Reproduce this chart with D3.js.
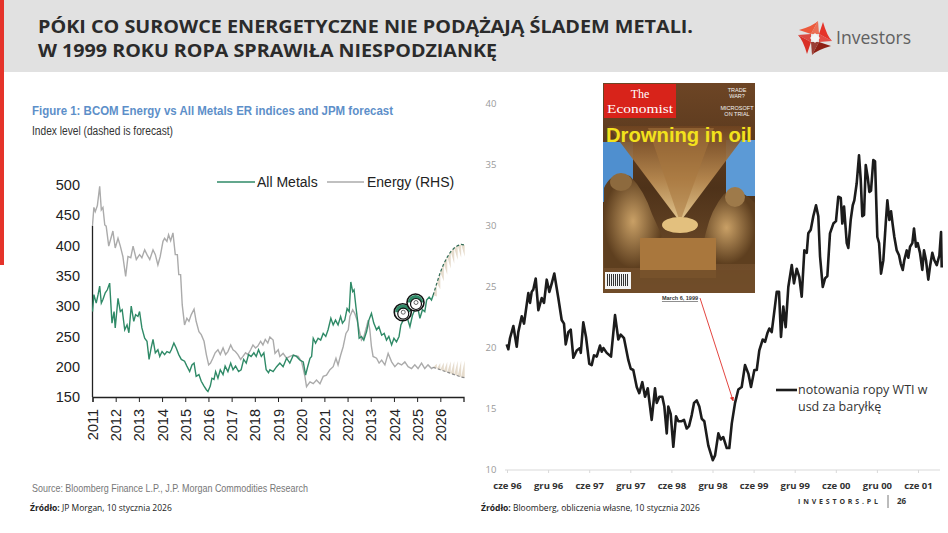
<!DOCTYPE html>
<html>
<head>
<meta charset="utf-8">
<script src="https://cdn.jsdelivr.net/npm/d3@7"></script>
<style>
  body { margin: 0; background: #fff; }
  svg { display: block; }
</style>
</head>
<body>
<div id="slide"></div>
<script>
/**
 * DATA
 * */
// left chart: BCOM indices, decimal years
const yearTicks = [2011, 2012, 2013, 2014, 2015, 2016, 2017, 2018, 2019, 2020, 2021, 2022, 2023, 2024, 2025, 2026];
const yearLabels = ["2011", "2012", "2013", "2014", "2015", "2016", "2017", "2018", "2019", "2020", "2021", "2022", "2013", "2024", "2025", "2026"];
const indexTicks = [150, 200, 250, 300, 350, 400, 450, 500];

const metalsT = [2011.00, 2011.06, 2011.16, 2011.24, 2011.31, 2011.38, 2011.45, 2011.55, 2011.64, 2011.74, 2011.84, 2011.93, 2011.98, 2012.10, 2012.20, 2012.28, 2012.39, 2012.49, 2012.57, 2012.67, 2012.78, 2012.86, 2012.96, 2013.03, 2013.13, 2013.25, 2013.35, 2013.44, 2013.53, 2013.61, 2013.71, 2013.82, 2013.90, 2014.00, 2014.11, 2014.21, 2014.33, 2014.40, 2014.51, 2014.61, 2014.72, 2014.83, 2014.97, 2015.07, 2015.19, 2015.29, 2015.38, 2015.47, 2015.59, 2015.69, 2015.81, 2015.91, 2015.98, 2016.08, 2016.15, 2016.24, 2016.31, 2016.41, 2016.51, 2016.63, 2016.72, 2016.84, 2016.96, 2017.06, 2017.17, 2017.30, 2017.41, 2017.52, 2017.63, 2017.73, 2017.84, 2017.96, 2018.06, 2018.16, 2018.28, 2018.39, 2018.49, 2018.59, 2018.65, 2018.79, 2018.94, 2019.08, 2019.22, 2019.37, 2019.51, 2019.66, 2019.80, 2019.94, 2020.09, 2020.19, 2020.28, 2020.38, 2020.45, 2020.52, 2020.62, 2020.73, 2020.84, 2020.95, 2021.06, 2021.16, 2021.28, 2021.38, 2021.48, 2021.59, 2021.70, 2021.78, 2021.88, 2021.98, 2022.07, 2022.14, 2022.22, 2022.28, 2022.36, 2022.43, 2022.50, 2022.60, 2022.70, 2022.82, 2022.92, 2023.03, 2023.13, 2023.25, 2023.35, 2023.47, 2023.58, 2023.68, 2023.78, 2023.90, 2024.00, 2024.11, 2024.22, 2024.30, 2024.40, 2024.54, 2024.69, 2024.80, 2024.90, 2025.00, 2025.12, 2025.23, 2025.33, 2025.41, 2025.52, 2025.62, 2025.69];
const metalsV = [291, 319, 305, 319, 333, 305, 311, 322, 327, 338, 272, 291, 264, 313, 291, 294, 261, 269, 256, 300, 275, 286, 283, 291, 264, 247, 242, 212, 231, 245, 223, 228, 217, 225, 220, 225, 223, 228, 239, 231, 220, 212, 209, 201, 192, 203, 206, 184, 187, 176, 168, 162, 159, 168, 181, 179, 192, 181, 195, 187, 201, 192, 206, 195, 201, 192, 195, 212, 206, 220, 217, 223, 217, 228, 217, 223, 195, 190, 195, 192, 200, 206, 200, 214, 206, 219, 217, 211, 208, 186, 200, 214, 217, 247, 239, 247, 244, 255, 250, 261, 280, 269, 277, 269, 283, 272, 277, 296, 291, 340, 324, 327, 299, 277, 247, 250, 244, 258, 277, 288, 272, 261, 266, 252, 255, 244, 250, 236, 247, 241, 250, 269, 277, 285, 266, 285, 294, 302, 280, 294, 291, 310, 315, 310, 318];

const energyT = [2011.00, 2011.06, 2011.12, 2011.21, 2011.31, 2011.38, 2011.45, 2011.53, 2011.59, 2011.70, 2011.78, 2011.88, 2011.98, 2012.10, 2012.20, 2012.31, 2012.43, 2012.53, 2012.65, 2012.75, 2012.89, 2013.03, 2013.13, 2013.25, 2013.35, 2013.47, 2013.61, 2013.71, 2013.82, 2013.92, 2014.04, 2014.11, 2014.21, 2014.28, 2014.37, 2014.47, 2014.57, 2014.66, 2014.72, 2014.80, 2014.87, 2014.97, 2015.07, 2015.16, 2015.26, 2015.38, 2015.47, 2015.59, 2015.69, 2015.81, 2015.91, 2016.01, 2016.09, 2016.19, 2016.29, 2016.41, 2016.51, 2016.63, 2016.74, 2016.84, 2016.96, 2017.06, 2017.16, 2017.27, 2017.39, 2017.49, 2017.60, 2017.70, 2017.82, 2017.92, 2018.03, 2018.13, 2018.25, 2018.35, 2018.45, 2018.56, 2018.65, 2018.79, 2018.87, 2019.01, 2019.08, 2019.22, 2019.37, 2019.51, 2019.66, 2019.87, 2020.02, 2020.16, 2020.23, 2020.38, 2020.52, 2020.66, 2020.81, 2020.95, 2021.09, 2021.24, 2021.38, 2021.50, 2021.59, 2021.70, 2021.81, 2021.93, 2022.03, 2022.10, 2022.22, 2022.31, 2022.41, 2022.50, 2022.60, 2022.70, 2022.82, 2022.89, 2022.96, 2023.03, 2023.10, 2023.25, 2023.36, 2023.47, 2023.61, 2023.75, 2023.90, 2024.04, 2024.18, 2024.33, 2024.47, 2024.61, 2024.76, 2024.90, 2025.04, 2025.19, 2025.33, 2025.47, 2025.62, 2025.69];
const energyV = [434, 463, 456, 466, 498, 459, 463, 434, 432, 399, 410, 424, 396, 412, 399, 382, 349, 382, 380, 399, 377, 385, 380, 393, 385, 377, 393, 385, 368, 382, 407, 412, 407, 418, 408, 421, 385, 385, 352, 352, 302, 269, 280, 275, 286, 295, 275, 258, 253, 242, 220, 203, 206, 214, 223, 228, 220, 231, 220, 225, 236, 228, 225, 220, 212, 217, 223, 220, 228, 236, 231, 234, 242, 236, 245, 239, 249, 244, 222, 228, 217, 222, 214, 217, 219, 217, 208, 184, 167, 175, 172, 178, 172, 184, 186, 195, 200, 214, 203, 219, 233, 255, 261, 283, 294, 288, 277, 261, 244, 249, 266, 277, 261, 233, 217, 214, 206, 211, 203, 222, 208, 200, 206, 203, 208, 200, 197, 203, 197, 206, 197, 203, 197, 199];

// JPM forecast (dashed) and forecast band
const fcstT = [2025.69, 2025.85, 2026.00, 2026.15, 2026.30, 2026.45, 2026.60, 2026.75, 2026.90, 2027.05];
const metalsFcst = [318, 338, 356, 370, 381, 390, 396, 400, 402, 401];
const metalsBand = [318, 316, 328, 341, 352, 362, 370, 376, 380, 382];
const energyFcst = [199, 197, 195, 193, 191, 189, 187, 185, 183, 182];
const energyBand = [199, 205, 206, 207, 208, 209, 209, 210, 210, 210];

// right chart: WTI, USD/bbl, decimal years
const monthTicks = [1996.4167, 1996.9167, 1997.4167, 1997.9167, 1998.4167, 1998.9167, 1999.4167, 1999.9167, 2000.4167, 2000.9167, 2001.4167];
const monthLabels = ["cze 96", "gru 96", "cze 97", "gru 97", "cze 98", "gru 98", "cze 99", "gru 99", "cze 00", "gru 00", "cze 01"];
const priceTicks = [10, 15, 20, 25, 30, 35, 40];

const wtiT = [1996.413, 1996.433, 1996.453, 1996.494, 1996.535, 1996.554, 1996.596, 1996.624, 1996.676, 1996.697, 1996.717, 1996.737, 1996.766, 1996.798, 1996.839, 1996.867, 1996.900, 1996.932, 1996.961, 1996.992, 1997.041, 1997.082, 1997.110, 1997.131, 1997.163, 1997.192, 1997.224, 1997.265, 1997.305, 1997.314, 1997.345, 1997.378, 1997.418, 1997.447, 1997.475, 1997.508, 1997.548, 1997.569, 1997.589, 1997.630, 1997.682, 1997.731, 1997.771, 1997.800, 1997.840, 1997.893, 1997.922, 1997.953, 1997.995, 1998.026, 1998.063, 1998.096, 1998.129, 1998.177, 1998.217, 1998.238, 1998.270, 1998.306, 1998.331, 1998.360, 1998.379, 1998.408, 1998.440, 1998.473, 1998.501, 1998.542, 1998.570, 1998.603, 1998.631, 1998.664, 1998.692, 1998.725, 1998.756, 1998.786, 1998.817, 1998.866, 1998.920, 1998.948, 1998.988, 1999.017, 1999.048, 1999.090, 1999.121, 1999.151, 1999.191, 1999.231, 1999.272, 1999.312, 1999.353, 1999.385, 1999.426, 1999.455, 1999.486, 1999.528, 1999.556, 1999.584, 1999.608, 1999.637, 1999.665, 1999.698, 1999.726, 1999.750, 1999.778, 1999.807, 1999.839, 1999.881, 1999.908, 1999.941, 1999.973, 2000.002, 2000.034, 2000.063, 2000.082, 2000.112, 2000.143, 2000.176, 2000.204, 2000.225, 2000.258, 2000.286, 2000.314, 2000.346, 2000.387, 2000.419, 2000.447, 2000.477, 2000.496, 2000.517, 2000.550, 2000.569, 2000.598, 2000.623, 2000.642, 2000.671, 2000.699, 2000.720, 2000.739, 2000.760, 2000.781, 2000.805, 2000.825, 2000.845, 2000.873, 2000.894, 2000.922, 2000.943, 2000.967, 2000.995, 2001.024, 2001.044, 2001.068, 2001.089, 2001.109, 2001.129, 2001.158, 2001.186, 2001.207, 2001.231, 2001.250, 2001.280, 2001.299, 2001.320, 2001.348, 2001.368, 2001.393, 2001.413, 2001.441, 2001.469, 2001.490, 2001.514, 2001.542, 2001.563, 2001.591, 2001.615, 2001.645, 2001.677, 2001.697, 2001.705];
const wtiV = [20.3, 19.9, 20.8, 21.8, 20.1, 21.3, 22.6, 22.0, 24.5, 23.7, 24.6, 24.8, 25.7, 23.1, 24.1, 23.7, 25.6, 24.6, 25.3, 26.1, 24.1, 22.3, 22.0, 20.3, 21.3, 21.5, 19.2, 19.8, 20.0, 19.6, 22.1, 20.9, 18.7, 18.6, 19.4, 19.3, 20.2, 19.7, 20.0, 19.6, 19.3, 22.7, 20.7, 21.1, 20.8, 19.0, 18.3, 18.2, 16.8, 16.3, 17.2, 16.0, 16.7, 14.1, 16.7, 15.5, 16.0, 16.0, 15.2, 13.0, 15.2, 14.6, 11.9, 14.4, 14.0, 14.0, 14.1, 13.4, 13.6, 14.5, 15.5, 15.7, 15.2, 14.2, 14.0, 12.0, 10.8, 11.2, 13.0, 12.5, 12.7, 11.8, 11.8, 13.8, 15.5, 16.6, 16.8, 18.6, 17.9, 16.8, 18.2, 18.2, 19.8, 20.7, 20.5, 21.2, 21.6, 21.3, 22.8, 24.6, 24.6, 20.9, 23.4, 21.7, 25.0, 26.8, 25.3, 26.5, 25.8, 24.2, 28.0, 27.8, 29.4, 29.7, 30.8, 31.7, 30.8, 27.5, 25.0, 25.7, 25.9, 29.4, 30.2, 30.4, 32.4, 32.3, 30.2, 31.6, 28.6, 28.2, 30.5, 31.7, 32.1, 33.5, 35.8, 33.8, 30.8, 30.9, 35.0, 34.0, 32.8, 32.9, 35.4, 35.3, 29.1, 28.6, 26.1, 27.2, 30.2, 32.1, 30.5, 31.2, 30.1, 29.1, 28.0, 27.6, 26.9, 26.4, 27.2, 28.0, 27.4, 28.3, 28.6, 29.8, 28.3, 28.6, 27.8, 26.4, 28.0, 27.2, 25.6, 26.7, 27.8, 27.2, 26.8, 27.6, 29.5, 26.6];

const coverDate = 1999.18; // Economist "Drowning in oil", March 6 1999

/**
 * SETUP
 * */
const width = 948, height = 533;
const svg = d3.select("#slide").append("svg").attr("width", width).attr("height", height);
const defs = svg.append("defs");
const ARIAL = "Arial, 'Liberation Sans', sans-serif";
const OPEN = "'Open Sans', 'Noto Sans', sans-serif";
const SERIF = "'Liberation Serif', 'DejaVu Serif', serif";

// header band
svg.append("rect").attr("x", 0).attr("y", 0).attr("width", width).attr("height", 72).attr("fill", "#e1e1e1");
svg.append("rect").attr("x", 0).attr("y", 0).attr("width", 4).attr("height", 265).attr("fill", "#e5332a");

svg.append("text").attr("x", 38).attr("y", 33)
  .attr("font-family", OPEN).attr("font-weight", 700).attr("font-size", 18).attr("fill", "#2b2b2b")
  .attr("textLength", 655).attr("lengthAdjust", "spacingAndGlyphs")
  .text("PÓKI CO SUROWCE ENERGETYCZNE NIE PODĄŻAJĄ ŚLADEM METALI.");
svg.append("text").attr("x", 38).attr("y", 57)
  .attr("font-family", OPEN).attr("font-weight", 700).attr("font-size", 18).attr("fill", "#2b2b2b")
  .attr("textLength", 459).attr("lengthAdjust", "spacingAndGlyphs")
  .text("W 1999 ROKU ROPA SPRAWIŁA NIESPODZIANKĘ");

// Investors logo: pinwheel of four petals round a white diamond
const logo = svg.append("g").attr("transform", "translate(815,38)");
[[0, "#ec5a3c"], [90, "#e5332a"], [180, "#8e2116"], [270, "#d92f25"]].forEach(([a, c]) => {
  logo.append("path").attr("d", "M-4,-4 L3,-17 Q-2,-12 -16,-8 Z")
    .attr("transform", `rotate(${a})`).attr("fill", c);
  logo.append("path").attr("d", "M-4,-4 L4,-4 L3,-17 Z")
    .attr("transform", `rotate(${a})`).attr("fill", c).attr("opacity", 0.85);
});
logo.append("path").attr("d", "M-5,0 L0,-5 L5,0 L0,5 Z").attr("fill", "#f4f4f4");
svg.append("text").attr("x", 836).attr("y", 44)
  .attr("font-family", OPEN).attr("font-size", 19).attr("fill", "#606060")
  .attr("textLength", 75).attr("lengthAdjust", "spacingAndGlyphs").text("Investors");

/**
 * LEFT CHART
 * */
const L = svg.append("g");
L.append("text").attr("x", 32).attr("y", 115)
  .attr("font-family", ARIAL).attr("font-weight", 700).attr("font-size", 13.5).attr("fill", "#5d8fc9")
  .attr("textLength", 361).attr("lengthAdjust", "spacingAndGlyphs")
  .text("Figure 1: BCOM Energy vs All Metals ER indices and JPM forecast");
L.append("text").attr("x", 32).attr("y", 135)
  .attr("font-family", ARIAL).attr("font-size", 12).attr("fill", "#333")
  .attr("textLength", 141).attr("lengthAdjust", "spacingAndGlyphs")
  .text("Index level (dashed is forecast)");

const xL = d3.scaleLinear().domain([2011, 2027]).range([92.5, 463.5]);
const yL = d3.scaleLinear().domain([150, 500]).range([397, 185]);

// axes
const xAxisL = L.append("g").attr("transform", "translate(0,397)")
  .call(d3.axisBottom(xL).tickValues(yearTicks).tickSize(5).tickFormat((d, i) => yearLabels[i]));
xAxisL.select(".domain").attr("stroke", "#222").attr("stroke-width", 1.3);
xAxisL.selectAll(".tick line").attr("stroke", "#222");
xAxisL.selectAll(".tick text")
  .attr("font-family", ARIAL).attr("font-size", 14.5).attr("fill", "#222")
  .attr("transform", "rotate(-90)").attr("text-anchor", "end")
  .attr("x", -12).attr("y", 0).attr("dy", "0.35em");

L.append("line").attr("x1", xL(2011)).attr("x2", xL(2011)).attr("y1", yL(150)).attr("y2", yL(433))
  .attr("stroke", "#222").attr("stroke-width", 1.3);
L.selectAll(".ylab").data(indexTicks).join("text").attr("class", "ylab")
  .attr("x", 80).attr("y", d => yL(d)).attr("dy", "0.35em").attr("text-anchor", "end")
  .attr("font-family", ARIAL).attr("font-size", 14.5).attr("fill", "#222").text(d => d);

// forecast band, drawn as saw teeth
function teeth(T, line, band) {
  const out = [];
  for (let i = 0; i < T.length - 1; i++) {
    out.push([[T[i], line[i]], [T[i + 1], band[i + 1]], [T[i + 1], line[i + 1]]]);
  }
  return out;
}
L.append("clipPath").attr("id", "clipL").append("rect").attr("x", 92).attr("y", 150).attr("width", 373).attr("height", 250);
const fan = L.append("g").attr("clip-path", "url(#clipL)");
fan.selectAll(".tooth").data(teeth(fcstT, metalsFcst, metalsBand).concat(teeth(fcstT, energyFcst, energyBand)))
  .join("path").attr("class", "tooth")
  .attr("d", d => "M" + d.map(p => [xL(p[0]), yL(p[1])].join(",")).join("L") + "Z")
  .attr("fill", "#e6dccd");

const lineL = d3.line().x(d => xL(d[0])).y(d => yL(d[1]));
const plot = L.append("g").attr("clip-path", "url(#clipL)");
plot.append("path").datum(d3.zip(energyT, energyV)).attr("d", lineL)
  .attr("fill", "none").attr("stroke", "#ababab").attr("stroke-width", 1.4);
plot.append("path").datum(d3.zip(metalsT, metalsV)).attr("d", lineL)
  .attr("fill", "none").attr("stroke", "#2f8a67").attr("stroke-width", 1.4);
plot.append("path").datum(d3.zip(fcstT, energyFcst)).attr("d", lineL)
  .attr("fill", "none").attr("stroke", "#8a8a8a").attr("stroke-width", 1.2).attr("stroke-dasharray", "3,2");
plot.append("path").datum(d3.zip(fcstT, metalsFcst)).attr("d", lineL)
  .attr("fill", "none").attr("stroke", "#2f6b55").attr("stroke-width", 1.2).attr("stroke-dasharray", "3,2");

// "eyes" sticker on the metals line
[[2024.38, 290], [2024.93, 306]].forEach(([t, v]) => {
  const g = L.append("g").attr("transform", `translate(${xL(t)},${yL(v)})`);
  g.append("circle").attr("r", 8.5).attr("fill", "#fff").attr("stroke", "#111").attr("stroke-width", 1.6);
  g.append("path").attr("d", d3.arc()({ innerRadius: 0, outerRadius: 7.6, startAngle: -Math.PI / 2, endAngle: Math.PI / 2 }))
    .attr("fill", "#2f8a67");
  g.append("circle").attr("cx", 0.5).attr("cy", 1.5).attr("r", 5.5).attr("fill", "#fff").attr("stroke", "#111").attr("stroke-width", 1.2);
  g.append("circle").attr("cx", 0.5).attr("cy", 0).attr("r", 2).attr("fill", "#fff").attr("stroke", "#444").attr("stroke-width", 0.8);
});

// legend
const legL = L.append("g").attr("font-family", ARIAL).attr("font-size", 14).attr("fill", "#222");
legL.append("line").attr("x1", 217).attr("x2", 255).attr("y1", 182).attr("y2", 182).attr("stroke", "#2f8a67").attr("stroke-width", 1.6);
legL.append("text").attr("x", 257).attr("y", 182).attr("dy", "0.35em").text("All Metals");
legL.append("line").attr("x1", 327).attr("x2", 364).attr("y1", 182).attr("y2", 182).attr("stroke", "#ababab").attr("stroke-width", 1.6);
legL.append("text").attr("x", 367).attr("y", 182).attr("dy", "0.35em").text("Energy (RHS)");

L.append("text").attr("x", 32).attr("y", 492)
  .attr("font-family", ARIAL).attr("font-size", 11.5).attr("fill", "#777")
  .attr("textLength", 276).attr("lengthAdjust", "spacingAndGlyphs")
  .text("Source: Bloomberg Finance L.P., J.P. Morgan Commodities Research");
const srcL = L.append("text").attr("x", 30).attr("y", 511).attr("font-family", OPEN).attr("font-size", 8.5).attr("fill", "#222");
srcL.append("tspan").attr("font-weight", 700).text("Źródło:");
srcL.append("tspan").text(" JP Morgan, 10 stycznia 2026");

/**
 * RIGHT CHART
 * */
const R = svg.append("g");
const xR = d3.scaleLinear().domain([1996.4167, 2001.4167]).range([507, 918]);
const yR = d3.scaleLinear().domain([10, 40]).range([470, 104]);

const xAxisR = R.append("g").attr("transform", "translate(0,470)")
  .call(d3.axisBottom(xR).tickValues(monthTicks).tickSize(3).tickFormat((d, i) => monthLabels[i]));
xAxisR.select(".domain").attr("d", "M505,0H940").attr("stroke", "#d9d9d9");
xAxisR.selectAll(".tick line").attr("stroke", "#d9d9d9");
xAxisR.selectAll(".tick text").attr("y", 12)
  .attr("font-family", OPEN).attr("font-weight", 700).attr("font-size", 9.5).attr("fill", "#333");

R.selectAll(".ylabR").data(priceTicks).join("text").attr("class", "ylabR")
  .attr("x", 491).attr("y", d => yR(d)).attr("dy", "0.35em").attr("text-anchor", "middle")
  .attr("font-family", OPEN).attr("font-size", 9.5).attr("fill", "#9a9a9a").text(d => d);

// Economist cover (drawn)
const cov = R.append("g");
const gFan = defs.append("linearGradient").attr("id", "gush").attr("x1", 0).attr("y1", 0).attr("x2", 0).attr("y2", 1);
gFan.append("stop").attr("offset", 0).attr("stop-color", "#6e4320");
gFan.append("stop").attr("offset", 0.55).attr("stop-color", "#b98a50");
gFan.append("stop").attr("offset", 1).attr("stop-color", "#efd39a");
const gBg = defs.append("linearGradient").attr("id", "covbg").attr("x1", 0).attr("y1", 0).attr("x2", 0).attr("y2", 1);
gBg.append("stop").attr("offset", 0).attr("stop-color", "#6d4525");
gBg.append("stop").attr("offset", 0.5).attr("stop-color", "#4e3219");
gBg.append("stop").attr("offset", 1).attr("stop-color", "#7a5530");
const gFig = defs.append("radialGradient").attr("id", "fig");
gFig.append("stop").attr("offset", 0).attr("stop-color", "#c9a066");
gFig.append("stop").attr("offset", 1).attr("stop-color", "#5e3f1f");

cov.append("rect").attr("x", 603).attr("y", 83).attr("width", 152).attr("height", 210).attr("fill", "url(#covbg)");
cov.append("rect").attr("x", 603).attr("y", 142).attr("width", 30).attr("height", 60).attr("fill", "#4f8fcf");
cov.append("rect").attr("x", 726).attr("y", 140).attr("width", 29).attr("height", 56).attr("fill", "#5c9ad6");
cov.append("path").attr("d", "M680,222 L608,126 L752,126 Z").attr("fill", "url(#gush)").attr("opacity", 0.92);
cov.append("path").attr("d", "M680,222 L648,128 L714,128 Z").attr("fill", "#a8773e").attr("opacity", 0.55);
// figures
cov.append("path").attr("d", "M604,188 Q612,170 630,176 Q644,190 652,214 L662,236 L640,268 L604,268 Z").attr("fill", "url(#fig)");
cov.append("path").attr("d", "M755,203 Q740,186 724,194 Q711,210 706,232 L698,264 L755,264 Z").attr("fill", "url(#fig)");
cov.append("ellipse").attr("cx", 621).attr("cy", 182).attr("rx", 11).attr("ry", 9).attr("fill", "#8d6a3e");
cov.append("ellipse").attr("cx", 735).attr("cy", 197).attr("rx", 10).attr("ry", 10).attr("fill", "#9e7a4a");
cov.append("rect").attr("x", 640).attr("y", 238).attr("width", 76).attr("height", 40).attr("fill", "#a9773d");
cov.append("rect").attr("x", 603).attr("y", 270).attr("width", 152).attr("height", 23).attr("fill", "#6e4b28").attr("opacity", 0.85);
cov.append("ellipse").attr("cx", 680).attr("cy", 225).attr("rx", 18).attr("ry", 8).attr("fill", "#e3c07e");
// masthead
cov.append("rect").attr("x", 604).attr("y", 84).attr("width", 72).attr("height", 34).attr("fill", "#d8231a");
cov.append("text").attr("x", 640).attr("y", 98).attr("text-anchor", "middle")
  .attr("font-family", SERIF).attr("font-size", 12).attr("fill", "#fff").text("The");
cov.append("text").attr("x", 640).attr("y", 113).attr("text-anchor", "middle")
  .attr("font-family", SERIF).attr("font-size", 12.5).attr("fill", "#fff")
  .attr("textLength", 66).attr("lengthAdjust", "spacingAndGlyphs").text("Economist");
[["TRADE", 92], ["WAR?", 98], ["MICROSOFT", 110], ["ON TRIAL", 116]].forEach(([t, y]) => {
  cov.append("text").attr("x", 737).attr("y", y).attr("text-anchor", "middle")
    .attr("font-family", ARIAL).attr("font-size", 5.5).attr("fill", "#f2f2f2").text(t);
});
cov.append("text").attr("x", 606).attr("y", 142)
  .attr("font-family", ARIAL).attr("font-weight", 700).attr("font-size", 20).attr("fill", "#f3e21c")
  .attr("textLength", 146).attr("lengthAdjust", "spacingAndGlyphs").text("Drowning in oil");
// barcode
cov.append("rect").attr("x", 605).attr("y", 272).attr("width", 26).attr("height", 17).attr("fill", "#f4f4f4");
d3.range(0, 22, 2).forEach(i => {
  cov.append("rect").attr("x", 607 + i).attr("y", 274).attr("width", 1).attr("height", 12).attr("fill", "#333");
});
cov.append("text").attr("x", 680).attr("y", 300).attr("text-anchor", "middle")
  .attr("font-family", ARIAL).attr("font-weight", 700).attr("font-size", 5.5).attr("fill", "#333")
  .attr("text-decoration", "underline").text("March 6, 1999");

// WTI line
const lineR = d3.line().x(d => xR(d[0])).y(d => yR(d[1]));
R.append("path").datum(d3.zip(wtiT, wtiV)).attr("d", lineR)
  .attr("fill", "none").attr("stroke", "#1c1c1c").attr("stroke-width", 2.6).attr("stroke-linejoin", "round");

// arrow to the cover date
defs.append("marker").attr("id", "arr").attr("viewBox", "0 0 10 10").attr("refX", 9).attr("refY", 5)
  .attr("markerWidth", 5).attr("markerHeight", 5).attr("orient", "auto")
  .append("path").attr("d", "M0,0 L10,5 L0,10 Z").attr("fill", "#e0302a");
const wtiAt = d3.bisector(d => d).left(wtiT, coverDate);
R.append("line").attr("x1", 700).attr("y1", 298).attr("x2", xR(coverDate) - 1).attr("y2", yR(wtiV[wtiAt]) - 2)
  .attr("stroke", "#e0302a").attr("stroke-width", 0.9).attr("marker-end", "url(#arr)");

// legend
R.append("line").attr("x1", 776).attr("x2", 797).attr("y1", 390).attr("y2", 390).attr("stroke", "#1c1c1c").attr("stroke-width", 2.6);
R.append("text").attr("x", 798).attr("y", 394).attr("font-family", OPEN).attr("font-size", 12.5).attr("fill", "#333").text("notowania ropy WTI w");
R.append("text").attr("x", 798).attr("y", 411).attr("font-family", OPEN).attr("font-size", 12.5).attr("fill", "#333").text("usd za baryłkę");

// footer
const srcR = R.append("text").attr("x", 481).attr("y", 511).attr("font-family", OPEN).attr("font-size", 8.5).attr("fill", "#222");
srcR.append("tspan").attr("font-weight", 700).text("Źródło:");
srcR.append("tspan").text(" Bloomberg, obliczenia własne, 10 stycznia 2026");
R.append("text").attr("x", 798).attr("y", 504).attr("font-family", OPEN).attr("font-weight", 700).attr("font-size", 7)
  .attr("fill", "#333").attr("textLength", 80).attr("lengthAdjust", "spacing").text("INVESTORS.PL");
R.append("line").attr("x1", 888).attr("x2", 888).attr("y1", 495).attr("y2", 508).attr("stroke", "#555").attr("stroke-width", 0.8);
R.append("text").attr("x", 897).attr("y", 504).attr("font-family", OPEN).attr("font-weight", 700).attr("font-size", 8)
  .attr("fill", "#333").text("26");
</script>
</body>
</html>
